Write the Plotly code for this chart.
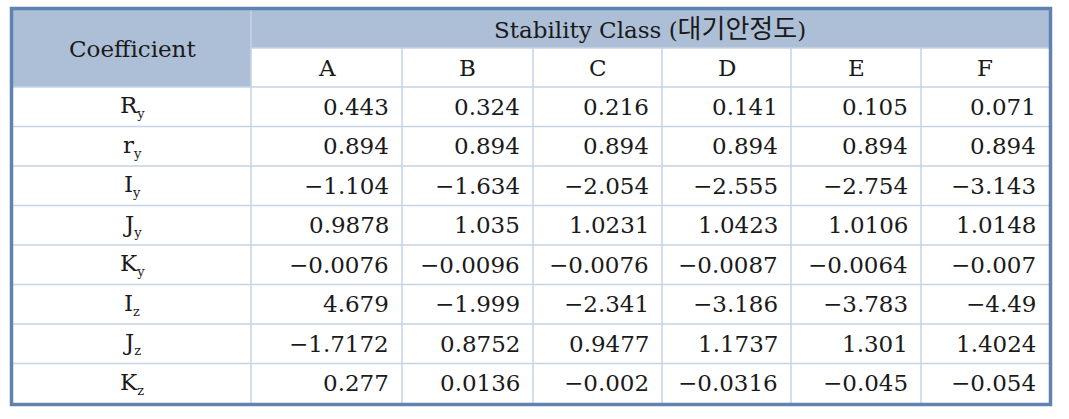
import plotly.graph_objects as go

# Datos de la tabla ----------
clases = ["A", "B", "C", "D", "E", "F"]
simbolos = ["R", "r", "I", "J", "K", "I", "J", "K"]
subindices = ["y", "y", "y", "y", "y", "z", "z", "z"]

Ry = [0.443, 0.324, 0.216, 0.141, 0.105, 0.071]
ry = [0.894, 0.894, 0.894, 0.894, 0.894, 0.894]
Iy = [-1.104, -1.634, -2.054, -2.555, -2.754, -3.143]
Jy = [0.9878, 1.035, 1.0231, 1.0423, 1.0106, 1.0148]
Ky = [-0.0076, -0.0096, -0.0076, -0.0087, -0.0064, -0.007]
Iz = [4.679, -1.999, -2.341, -3.186, -3.783, -4.49]
Jz = [-1.7172, 0.8752, 0.9477, 1.1737, 1.301, 1.4024]
Kz = [0.277, 0.0136, -0.002, -0.0316, -0.045, -0.054]
filas = [Ry, ry, Iy, Jy, Ky, Iz, Jz, Kz]

# Geometria (en pixeles) ----------
W, H = 1069, 419
x_bordes = [13, 251, 402, 533, 662, 791, 921, 1049]
y_top, y_mid, y_head = 10, 48, 87
y_bot = 403
alto_fila = (y_bot - y_head) / len(filas)

color_borde = "#5f82ae"
color_cabecera = "#adbfd6"
color_grilla = "#c6d3e3"
fuente = "DejaVu Serif, Noto Sans CJK KR"
tam = 23


def formato(v):
    # Usa el signo menos tipografico
    return str(v).replace("-", "\u2212")


fig = go.Figure()
shapes = []
anns = []

# Fondos de cabecera
shapes.append(dict(type="rect", x0=x_bordes[0], x1=x_bordes[1], y0=y_top, y1=y_head,
                   fillcolor=color_cabecera, line_width=0, layer="below"))
shapes.append(dict(type="rect", x0=x_bordes[1], x1=x_bordes[-1], y0=y_top, y1=y_mid,
                   fillcolor=color_cabecera, line_width=0, layer="below"))

# Lineas de la grilla
shapes.append(dict(type="line", x0=x_bordes[1], x1=x_bordes[-1], y0=y_mid, y1=y_mid,
                   line=dict(color=color_grilla, width=1.5)))
for i in range(len(filas)):
    y = y_head + i * alto_fila
    shapes.append(dict(type="line", x0=x_bordes[0], x1=x_bordes[-1], y0=y, y1=y,
                       line=dict(color=color_grilla, width=1.5)))
shapes.append(dict(type="line", x0=x_bordes[1], x1=x_bordes[1], y0=y_top, y1=y_bot,
                   line=dict(color=color_grilla, width=1.5)))
for xb in x_bordes[2:-1]:
    shapes.append(dict(type="line", x0=xb, x1=xb, y0=y_mid, y1=y_bot,
                       line=dict(color=color_grilla, width=1.5)))

# Borde exterior
shapes.append(dict(type="rect", x0=x_bordes[0] - 1.5, x1=x_bordes[-1] + 1.5,
                   y0=y_top - 1.5, y1=y_bot + 1.5, line=dict(color=color_borde, width=3.5)))

# Textos de cabecera
anns.append(dict(x=(x_bordes[0] + x_bordes[1]) / 2, y=(y_top + y_head) / 2,
                 text="Coefficient", xanchor="center", yanchor="middle"))
anns.append(dict(x=(x_bordes[1] + x_bordes[-1]) / 2, y=(y_top + y_mid) / 2,
                 text="Stability Class (<span style='font-size:26px'>대기안정도</span>)",
                 xanchor="center", yanchor="middle"))
for j, c in enumerate(clases):
    anns.append(dict(x=(x_bordes[j + 1] + x_bordes[j + 2]) / 2, y=(y_mid + y_head) / 2,
                     text=c, xanchor="center", yanchor="middle"))

# Filas de datos
for i, valores in enumerate(filas):
    yc = y_head + (i + 0.5) * alto_fila
    nombre = simbolos[i] + "<sub><span style='font-size:13px'>" + subindices[i] + "</span></sub>"
    anns.append(dict(x=(x_bordes[0] + x_bordes[1]) / 2, y=yc, text=nombre,
                     xanchor="center", yanchor="middle"))
    for j, v in enumerate(valores):
        anns.append(dict(x=x_bordes[j + 2] - 11, y=yc, text=formato(v),
                         xanchor="right", yanchor="middle"))

for a in anns:
    a.update(xref="x", yref="y", showarrow=False, font=dict(family=fuente, size=tam, color="#1a1a1a"))

fig.update_layout(width=W, height=H, margin=dict(l=0, r=0, t=0, b=0),
                  plot_bgcolor="white", paper_bgcolor="white",
                  shapes=shapes, annotations=anns, showlegend=False,
                  xaxis=dict(range=[0, W], visible=False, fixedrange=True),
                  yaxis=dict(range=[H, 0], visible=False, fixedrange=True))

fig.write_html("out.html", config=dict(displayModeBar=False),
               post_script="document.body.style.margin='0';")
